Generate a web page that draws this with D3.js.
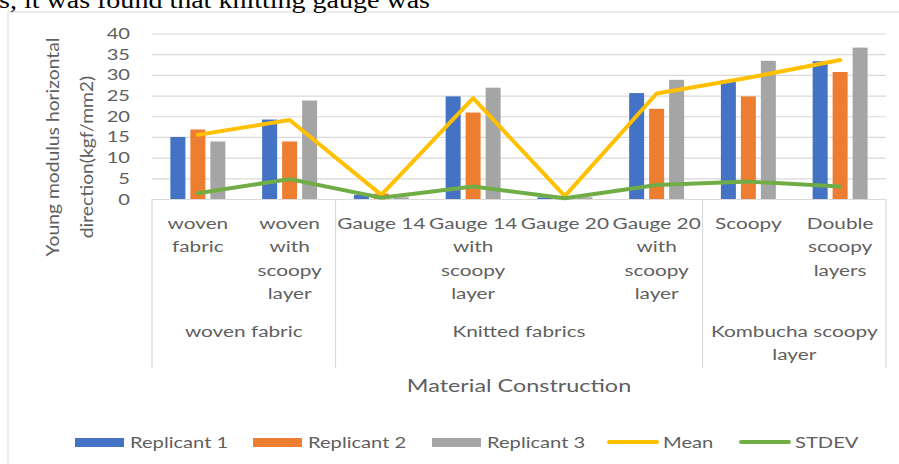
<!DOCTYPE html>
<html>
<head>
<meta charset="utf-8">
<script src="https://cdn.jsdelivr.net/npm/d3@7"></script>
<style>
    body { margin: 0; background: #fff; }
    svg { display: block; }
    text { font-family: Lato, 'Open Sans', sans-serif; fill: #5f5f5f; }
</style>
</head>
<body>
<svg id="plot"></svg>
<script>
'use strict';

// chart values
const categories = ['woven fabric', 'woven with scoopy layer', 'Gauge 14', 'Gauge 14 with scoopy layer',
    'Gauge 20', 'Gauge 20 with scoopy layer', 'Scoopy', 'Double scoopy layers'];
const categoryLines = [['woven', 'fabric'], ['woven', 'with', 'scoopy', 'layer'], ['Gauge 14'],
    ['Gauge 14', 'with', 'scoopy', 'layer'], ['Gauge 20'], ['Gauge 20', 'with', 'scoopy', 'layer'],
    ['Scoopy'], ['Double', 'scoopy', 'layers']];
const groupNames = [['woven fabric'], ['Knitted fabrics'], ['Kombucha scoopy', 'layer']];
const groupSpans = [2, 4, 2];

const replicant1 = [15.0, 19.2, 1.0, 24.8, 0.4, 25.6, 28.7, 33.3];
const replicant2 = [16.8, 13.9, 1.3, 20.9, 0.3, 21.8, 24.8, 30.7];
const replicant3 = [13.9, 23.8, 0.4, 26.9, 0.4, 28.8, 33.4, 36.6];
const meanValues = [15.5, 19.1, 1.0, 24.4, 0.7, 25.5, 29.3, 33.6];
const stdevValues = [1.4, 4.8, 0.3, 3.0, 0.2, 3.4, 4.2, 3.0];

const barSeries = ['Replicant 1', 'Replicant 2', 'Replicant 3'];
const lineSeries = ['Mean', 'STDEV'];
const yTicks = [0, 5, 10, 15, 20, 25, 30, 35, 40];

const plotWidth = 899;
const plotHeight = 464;
const plotLeft = 152;
const plotRight = 886;
const plotTop = 33.5;
const plotBottom = 199;
const boxBottom = 368;
const stretch = 1.3;

const colors = {
    'Replicant 1': '#4472C4',
    'Replicant 2': '#ED7D31',
    'Replicant 3': '#A5A5A5',
    'Mean': '#FFC000',
    'STDEV': '#70AD47'
};

const svg = d3.select('#plot')
    .attr('width', plotWidth)
    .attr('height', plotHeight);

function stretchedText(parent, x, y, str, anchor, size) {
    return parent.append('text')
        .attr('transform', `translate(${x},${y}) scale(${stretch},1)`)
        .attr('text-anchor', anchor)
        .style('font-size', `${size}px`)
        .text(str);
}

function renderFrame() {
    svg.append('path')
        .attr('d', `M8,${plotHeight} V12 H${plotWidth}`)
        .attr('fill', 'none')
        .attr('stroke', '#d9d9d9');

    svg.append('text')
        .attr('x', -1)
        .attr('y', 7.5)
        .attr('textLength', 431)
        .attr('lengthAdjust', 'spacingAndGlyphs')
        .style('font-family', "'Liberation Serif', 'Times New Roman', serif")
        .style('font-size', '24px')
        .style('fill', '#000')
        .text('s, it was found that knitting gauge was');
}

const xScale = d3.scaleBand()
    .domain(categories)
    .range([plotLeft, plotRight]);

const subScale = d3.scaleBand()
    .domain(barSeries)
    .range([0, xScale.bandwidth()])
    .paddingInner(0.25)
    .paddingOuter(0.92);

const yScale = d3.scaleLinear()
    .domain([0, 40])
    .range([plotBottom, plotTop]);

function renderYAxis() {
    const yAxis = d3.axisLeft(yScale)
        .tickValues(yTicks)
        .tickSize(-(plotRight - plotLeft))
        .tickFormat('');

    const axis = svg.append('g')
        .attr('id', 'y-axis')
        .attr('transform', `translate(${plotLeft},0)`)
        .call(yAxis);

    axis.select('.domain').remove();
    axis.selectAll('.tick line')
        .attr('stroke', '#d9d9d9')
        .attr('stroke-width', 1.2);

    yTicks.forEach(t => {
        stretchedText(svg, 130, yScale(t) + 5.5, t, 'end', 15.5);
    });

    const title = [['Young modulus horizontal', 59, 147], ['direction(kgf/mm2)', 93, 157]];
    title.forEach(([str, x, y]) => {
        svg.append('text')
            .attr('transform', `translate(${x},${y}) rotate(-90) scale(1.17,1.1)`)
            .attr('text-anchor', 'middle')
            .style('font-size', '16.5px')
            .text(str);
    });
}

function renderXAxis() {
    const xAxis = svg.append('g').attr('id', 'x-axis');

    // group separators
    let index = 0;
    const edges = [plotLeft];
    groupSpans.forEach(span => {
        index += span;
        edges.push(index < categories.length ? xScale(categories[index]) : plotRight);
    });

    edges.forEach(x => {
        xAxis.append('line')
            .attr('x1', x).attr('x2', x)
            .attr('y1', plotBottom).attr('y2', boxBottom)
            .attr('stroke', '#d9d9d9')
            .attr('stroke-width', 1.2);
    });

    categories.forEach((c, i) => {
        const cx = xScale(c) + xScale.bandwidth() / 2;
        categoryLines[i].forEach((line, j) => {
            stretchedText(xAxis, cx, 229 + j * 23.3, line, 'middle', 16);
        });
    });

    groupNames.forEach((lines, i) => {
        const cx = (edges[i] + edges[i + 1]) / 2;
        lines.forEach((line, j) => {
            stretchedText(xAxis, cx, 337 + j * 23.3, line, 'middle', 16);
        });
    });

    stretchedText(svg, (plotLeft + plotRight) / 2, 392, 'Material Construction', 'middle', 18);
}

function renderBars() {
    const rows = [replicant1, replicant2, replicant3];

    barSeries.forEach((name, k) => {
        svg.append('g')
            .selectAll('rect')
            .data(rows[k])
            .enter()
            .append('rect')
            .attr('x', (d, i) => xScale(categories[i]) + subScale(name))
            .attr('y', d => yScale(d))
            .attr('width', subScale.bandwidth())
            .attr('height', d => yScale(0) - yScale(d))
            .attr('fill', colors[name]);
    });
}

function renderLines() {
    const rows = [meanValues, stdevValues];
    const line = d3.line()
        .x((d, i) => xScale(categories[i]) + xScale.bandwidth() / 2)
        .y(d => yScale(d));

    lineSeries.forEach((name, k) => {
        svg.append('path')
            .datum(rows[k])
            .attr('d', line)
            .attr('fill', 'none')
            .attr('stroke', colors[name])
            .attr('stroke-width', 4)
            .attr('stroke-linejoin', 'round')
            .attr('stroke-linecap', 'round');
    });
}

function renderLegend() {
    const legend = svg.append('g').attr('id', 'legend');
    const entries = barSeries.concat(lineSeries);
    const starts = [75, 253, 432, 608, 740];

    entries.forEach((name, i) => {
        const x = starts[i];
        if (barSeries.includes(name)) {
            legend.append('rect')
                .attr('x', x).attr('y', 438)
                .attr('width', 49).attr('height', 9)
                .attr('fill', colors[name]);
        } else {
            legend.append('line')
                .attr('x1', x + 1).attr('x2', x + 49)
                .attr('y1', 442).attr('y2', 442)
                .attr('stroke', colors[name])
                .attr('stroke-width', 4)
                .attr('stroke-linecap', 'round');
        }
        stretchedText(legend, x + 55, 448, name, 'start', 15.5);
    });
}

renderFrame();
renderYAxis();
renderXAxis();
renderBars();
renderLines();
renderLegend();
</script>
</body>
</html>
